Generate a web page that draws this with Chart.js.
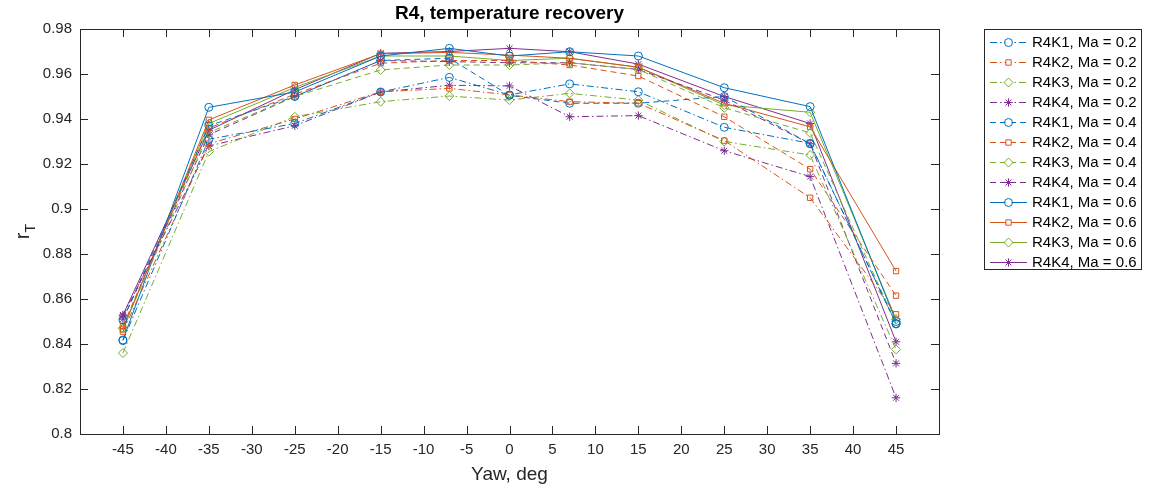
<!DOCTYPE html>
<html><head><meta charset="utf-8">
<script src="https://cdn.jsdelivr.net/npm/chart.js@4.4.1/dist/chart.umd.min.js"></script>
<style>html,body{margin:0;padding:0;background:#fff}#wrap{width:1151px;height:488px}</style>
</head><body><div id="wrap"><canvas id="c" width="1151" height="488"></canvas></div>
<script>
// ---- data ----
const yaw = [-45, -35, -25, -15, -7, 0, 7, 15, 25, 35, 45];
const xTickValues = [-45,-40,-35,-30,-25,-20,-15,-10,-5,0,5,10,15,20,25,30,35,40,45];
const yTickValues = [0.8,0.82,0.84,0.86,0.88,0.9,0.92,0.94,0.96,0.98];

const r4k1_ma02 = [0.8415, 0.931, 0.938, 0.952, 0.9585, 0.9507, 0.9556, 0.9521, 0.9363, 0.9292, 0.849];
const r4k2_ma02 = [0.8455, 0.929, 0.940, 0.9521, 0.9536, 0.9507, 0.9477, 0.947, 0.9304, 0.905, 0.8532];
const r4k3_ma02 = [0.836, 0.9255, 0.941, 0.9477, 0.9502, 0.9484, 0.9514, 0.9484, 0.930, 0.924, 0.8376];
const r4k4_ma02 = [0.8525, 0.928, 0.937, 0.952, 0.955, 0.9547, 0.941, 0.9415, 0.9259, 0.9144, 0.8161];

const r4k1_ma04 = [0.8507, 0.937, 0.950, 0.966, 0.967, 0.9505, 0.947, 0.947, 0.950, 0.929, 0.849];
const r4k2_ma04 = [0.848, 0.936, 0.951, 0.9648, 0.966, 0.966, 0.964, 0.9591, 0.941, 0.9177, 0.8615];
const r4k3_ma04 = [0.847, 0.934, 0.950, 0.9618, 0.964, 0.964, 0.965, 0.962, 0.945, 0.9338, 0.849];
const r4k4_ma04 = [0.851, 0.933, 0.950, 0.966, 0.9655, 0.965, 0.965, 0.962, 0.9484, 0.929, 0.8314];

const r4k1_ma06 = [0.8418, 0.9452, 0.952, 0.968, 0.9714, 0.968, 0.9699, 0.968, 0.9539, 0.9455, 0.850];
const r4k2_ma06 = [0.8465, 0.9396, 0.9551, 0.969, 0.9696, 0.9684, 0.967, 0.963, 0.947, 0.9365, 0.8724];
const r4k3_ma06 = [0.847, 0.938, 0.954, 0.968, 0.968, 0.966, 0.967, 0.963, 0.9462, 0.943, 0.851];
const r4k4_ma06 = [0.8529, 0.935, 0.953, 0.9692, 0.970, 0.9714, 0.9699, 0.9644, 0.950, 0.938, 0.841];

const seriesLabels = ['R4K1, Ma = 0.2','R4K2, Ma = 0.2','R4K3, Ma = 0.2','R4K4, Ma = 0.2',
                      'R4K1, Ma = 0.4','R4K2, Ma = 0.4','R4K3, Ma = 0.4','R4K4, Ma = 0.4',
                      'R4K1, Ma = 0.6','R4K2, Ma = 0.6','R4K3, Ma = 0.6','R4K4, Ma = 0.6'];
const seriesValues = [r4k1_ma02,r4k2_ma02,r4k3_ma02,r4k4_ma02,r4k1_ma04,r4k2_ma04,r4k3_ma04,r4k4_ma04,r4k1_ma06,r4k2_ma06,r4k3_ma06,r4k4_ma06];

// ---- styles ----
const colors = ['#0072BD','#D95319','#77AC30','#7E2F8E'];
const markers = ['circle','rect','rectRot','star'];
const markerRadius = {circle:4, rect:3.8, rectRot:4.5, star:4.2};
const dashes = [[7,3,1.5,3],[6,4],[]];
const axisColor = '#262626';
const FONT = '"Liberation Sans", Arial, Helvetica, sans-serif';

const datasets = seriesValues.map((vals, i) => {
  const k = i % 4, m = Math.floor(i / 4);
  return {
    label: seriesLabels[i],
    data: yaw.map((x, j) => ({x: x, y: vals[j]})),
    borderColor: colors[k],
    backgroundColor: 'rgba(0,0,0,0)',
    borderWidth: 1,
    borderDash: dashes[m],
    pointStyle: markers[k],
    pointRadius: markerRadius[markers[k]],
    pointBorderWidth: 1,
    pointBorderColor: colors[k],
    pointBackgroundColor: 'rgba(0,0,0,0)',
    pointHoverRadius: markerRadius[markers[k]],
    tension: 0,
    fill: false
  };
});

const AREA = {left: 80, right: 939, top: 29, bottom: 434};

const decorPlugin = {
  id: 'decor',
  afterDraw(chart) {
    const ctx = chart.ctx;
    const xs = chart.scales.x, ys = chart.scales.y;
    const ca = chart.chartArea;
    ctx.save();
    ctx.strokeStyle = axisColor;
    ctx.lineWidth = 1;
    ctx.setLineDash([]);
    ctx.strokeRect(Math.round(ca.left) + 0.5, Math.round(ca.top) + 0.5, Math.round(ca.right - ca.left), Math.round(ca.bottom - ca.top));
    const TL = 8;
    ctx.beginPath();
    xTickValues.forEach(v => {
      const px = Math.round(xs.getPixelForValue(v)) + 0.5;
      ctx.moveTo(px, ca.bottom); ctx.lineTo(px, ca.bottom - TL);
      ctx.moveTo(px, ca.top); ctx.lineTo(px, ca.top + TL);
    });
    yTickValues.forEach(v => {
      const py = Math.round(ys.getPixelForValue(v)) + 0.5;
      ctx.moveTo(ca.left, py); ctx.lineTo(ca.left + TL, py);
      ctx.moveTo(ca.right, py); ctx.lineTo(ca.right - TL, py);
    });
    ctx.stroke();

    // title
    ctx.fillStyle = '#000';
    ctx.font = 'bold 19px ' + FONT;
    ctx.textAlign = 'center';
    ctx.textBaseline = 'middle';
    ctx.fillText('R4, temperature recovery', (ca.left + ca.right) / 2, 14);

    // x label
    ctx.fillStyle = axisColor;
    ctx.font = '19px ' + FONT;
    ctx.fillText('Yaw, deg', (ca.left + ca.right) / 2, 475);

    // y label r_T
    ctx.save();
    ctx.translate(25, (ca.top + ca.bottom) / 2);
    ctx.rotate(-Math.PI / 2);
    ctx.textAlign = 'left';
    ctx.textBaseline = 'alphabetic';
    ctx.font = '20px ' + FONT;
    const rw = ctx.measureText('r').width;
    const tw0 = 14 * 0.62;
    ctx.fillText('r', -(rw + tw0) / 2, 4);
    ctx.font = '14px ' + FONT;
    ctx.fillText('T', -(rw + tw0) / 2 + rw, 10);
    ctx.restore();

    // legend
    const bx = 984.5, by = 29.5, bw = 157, bh = 240;
    ctx.fillStyle = '#fff';
    ctx.fillRect(bx, by, bw, bh);
    ctx.strokeStyle = axisColor;
    ctx.strokeRect(bx, by, bw, bh);
    ctx.font = '15px ' + FONT;
    ctx.textAlign = 'left';
    ctx.textBaseline = 'middle';
    chart.data.datasets.forEach((ds, i) => {
      const y = 42 + i * 20;
      ctx.save();
      ctx.strokeStyle = ds.borderColor;
      ctx.fillStyle = 'rgba(0,0,0,0)';
      ctx.lineWidth = 1;
      ctx.setLineDash(ds.borderDash || []);
      ctx.beginPath();
      ctx.moveTo(990, y + 0.5); ctx.lineTo(1027, y + 0.5);
      ctx.stroke();
      ctx.setLineDash([]);
      // white behind marker so the line does not cross it
      ctx.fillStyle = '#fff';
      ctx.fillRect(1008.5 - ds.pointRadius + 1, y + 0.5 - ds.pointRadius + 1, ds.pointRadius * 2 - 2, ds.pointRadius * 2 - 2);
      ctx.fillStyle = 'rgba(0,0,0,0)';
      Chart.helpers.drawPoint(ctx, {
        pointStyle: ds.pointStyle, radius: ds.pointRadius, borderWidth: 1, rotation: 0
      }, 1008.5, y + 0.5);
      ctx.restore();
      ctx.fillStyle = '#000';
      ctx.fillText(ds.label, 1032, y + 1);
    });
    ctx.restore();
  }
};

new Chart(document.getElementById('c'), {
  type: 'line',
  data: { datasets: datasets },
  options: {
    responsive: false,
    animation: false,
    devicePixelRatio: 1,
    layout: { padding: { top: AREA.top, right: 1151 - AREA.right, left: 0, bottom: 0 } },
    plugins: { legend: { display: false }, title: { display: false }, tooltip: { enabled: false } },
    scales: {
      x: {
        type: 'linear', min: -50, max: 50,
        afterBuildTicks: s => { s.ticks = xTickValues.map(v => ({value: v})); },
        afterFit: s => { s.height = 488 - AREA.bottom; },
        grid: { display: false, drawTicks: false },
        border: { display: false },
        ticks: { color: axisColor, font: { family: FONT, size: 15 }, padding: 7, autoSkip: false, maxRotation: 0,
                 callback: v => String(v) }
      },
      y: {
        type: 'linear', min: 0.8, max: 0.98,
        afterBuildTicks: s => { s.ticks = yTickValues.map(v => ({value: v})); },
        afterFit: s => { s.width = AREA.left; },
        grid: { display: false, drawTicks: false },
        border: { display: false },
        ticks: { color: axisColor, font: { family: FONT, size: 15 }, padding: 8,
                 callback: v => String(parseFloat(v.toFixed(2))) }
      }
    }
  },
  plugins: [decorPlugin]
});
</script>
</body></html>
